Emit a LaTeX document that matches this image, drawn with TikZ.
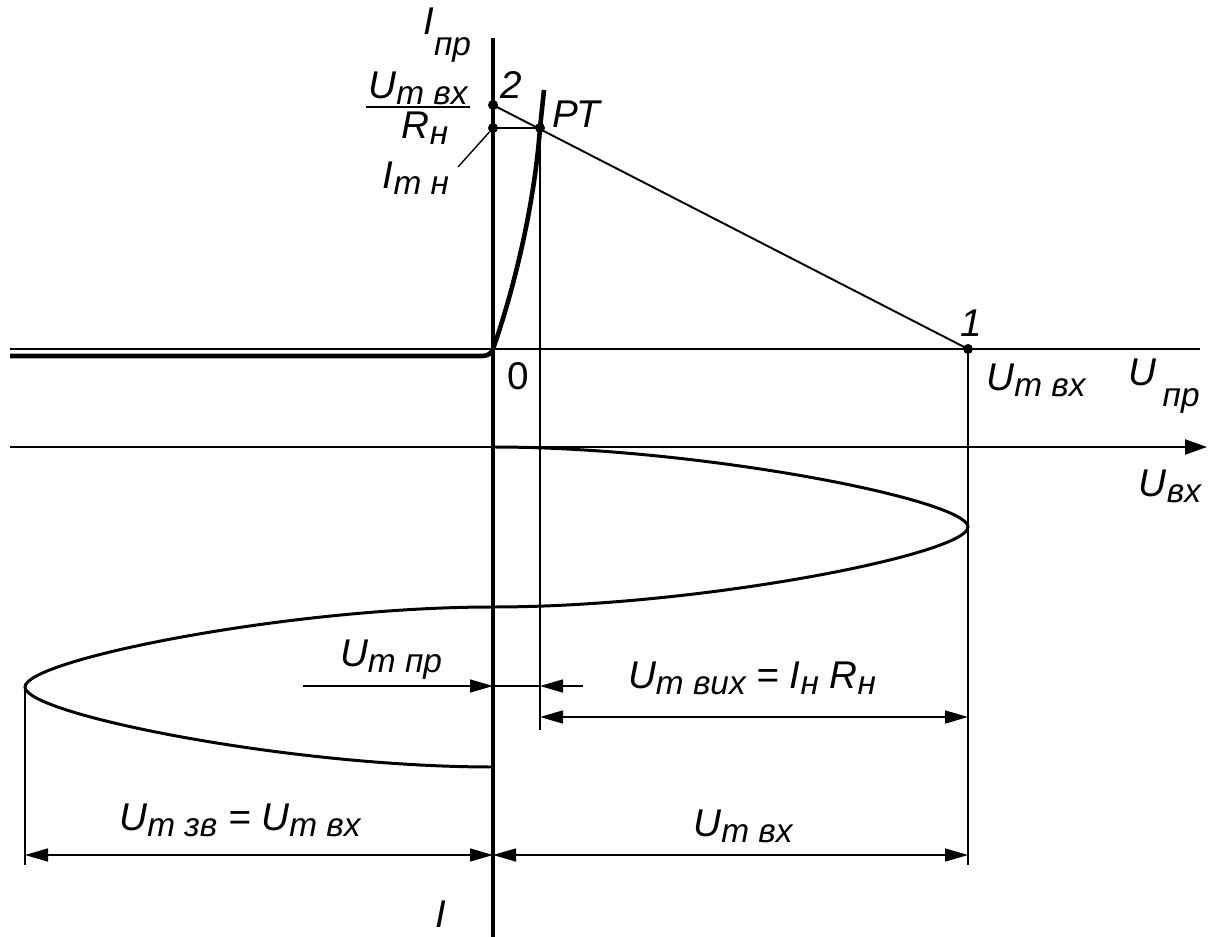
\documentclass[tikz,border=0pt]{standalone}
\usepackage{fontspec}
\setmainfont{Liberation Sans}
\usepackage{tikz}
\usetikzlibrary{arrows.meta}
\newcommand{\lowsub}[1]{\raisebox{-0.3ex}{\fontsize{19}{21}\selectfont #1}}
\newcommand{\deepsub}[1]{\raisebox{-1.0ex}{\fontsize{19}{21}\selectfont #1}}
\tikzset{
  mainaxis/.style={line width=2.0pt},
  upaxis/.style={line width=1.6pt},
  lowaxis/.style={line width=1.1pt, -{Triangle[length=4.4mm,width=3.0mm]}},
  charline/.style={line width=2.6pt, line join=round},
  waveline/.style={line width=1.7pt},
  loadline/.style={line width=1.1pt},
  extline/.style={line width=0.8pt},
  dimarrow/.style={-{Triangle[length=4.6mm,width=2.6mm]}, line width=0.8pt},
  dimboth/.style={{Triangle[length=4.6mm,width=2.6mm]}-{Triangle[length=4.6mm,width=2.6mm]}, line width=0.8pt},
  % --- labels and points ---
  lbl/.style={font=\fontsize{22}{24}\selectfont\itshape, inner sep=0pt},
  numlbl/.style={font=\fontsize{22}{24}\selectfont, inner sep=0pt},
  dotmark/.style={circle, fill=black, inner sep=0pt, minimum size=2.0mm},
}

\begin{document}
\begin{tikzpicture}[x=0.2mm,y=-0.2mm]
  \useasboundingbox (0,0) rectangle (1214,937);
  \coordinate (orig) at (493,349);
  \coordinate (p2) at (493,105);
  \coordinate (imn) at (493,128);
  \coordinate (pt) at (540,128);
  \coordinate (p1) at (968,349);

  % axes
  \draw[mainaxis] (493,38) -- (493,937);
  \draw[upaxis] (10,349) -- (1200,349);
  \draw[lowaxis] (10,447) -- (1207,447);

  % extension lines
  \draw[extline] (pt) -- (540,730);
  \draw[extline] (p1) -- (968,865);
  \draw[extline] (25,687) -- (25,865);

  % diode characteristic
  \draw[charline] (10,356) -- (482,356) to[out=0,in=-110] (orig)
    .. controls (512,295) and (534,210) .. (pt) -- (544,90);

  % load line
  \draw[loadline] (p2) -- (p1);
  \draw[extline] (imn) -- (pt);

  % input voltage wave
  \draw[waveline] (493,447) .. controls (700,447) and (968,500) .. (968,527)
    .. controls (968,554) and (700,607) .. (493,607)
    .. controls (289,607) and (25,660) .. (25,687)
    .. controls (25,714) and (289,767) .. (493,767);

  % points
  \node[dotmark] (dp2) at (p2) {};
  \node[dotmark] (dimn) at (imn) {};
  \node[dotmark] (dpt) at (pt) {};
  \node[dotmark] (dp1) at (p1) {};

  % dimension lines
  \draw[dimarrow] (303,686) -- (493,686);
  \draw[extline] (493,686) -- (540,686);
  \draw[dimarrow] (583,686) -- (540,686);
  \draw[dimboth] (540,717) -- (968,717);
  \draw[dimboth] (25,855) -- (493,855);
  \draw[dimboth] (493,855) -- (968,855);

  % labels
  \node[lbl, anchor=base west] (ipr) at (423,35) {I\deepsub{пр}};
  \node[lbl] (l2) at (511,85) {2};
  \node[lbl] (lpt) at (576,114) {РТ};
  \node[lbl] (fnum) at (418,88) {U\lowsub{m вх}};
  \draw[loadline] (366,107) -- (470,107);
  \node[lbl] (fden) at (425,128) {R\lowsub{н}};
  \node[lbl] (limn) at (416,178) {I\lowsub{m н}};
  \draw[extline] (458,167) -- (dimn);
  \node[numlbl] (l0) at (518,376) {0};
  \node[lbl] (l1) at (971,323) {1};
  \node[lbl] (umvx) at (1036,380) {U\lowsub{m вх}};
  \node[lbl] (upr) at (1164,386) {U\,\deepsub{пр}};
  \node[lbl] (uvx) at (1170,486) {U\lowsub{вх}};
  \node[lbl] (umpr) at (391,660) {U\lowsub{m пр}};
  \node[lbl] (umvyx) at (752,678) {U\lowsub{m вих} = I\lowsub{н} R\lowsub{н}};
  \node[lbl] (umzv) at (240,820) {U\lowsub{m зв} = U\lowsub{m вх}};
  \node[lbl] (umvx2) at (743,826) {U\lowsub{m вх}};
  \node[lbl] (lt) at (441,914) {I};
\end{tikzpicture}
\end{document}
